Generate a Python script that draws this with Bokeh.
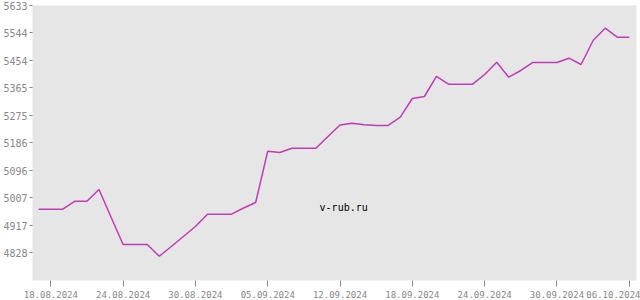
from bokeh.plotting import figure
from bokeh.models import FixedTicker, Range1d, Label
from bokeh.embed import file_html
from bokeh.resources import INLINE

dates = ["17.08.2024", "18.08.2024", "19.08.2024", "20.08.2024", "21.08.2024",
         "22.08.2024", "23.08.2024", "24.08.2024", "25.08.2024", "26.08.2024",
         "27.08.2024", "28.08.2024", "29.08.2024", "30.08.2024", "31.08.2024",
         "01.09.2024", "02.09.2024", "03.09.2024", "04.09.2024", "05.09.2024",
         "06.09.2024", "07.09.2024", "08.09.2024", "09.09.2024", "10.09.2024",
         "12.09.2024", "13.09.2024", "14.09.2024", "15.09.2024", "16.09.2024",
         "17.09.2024", "18.09.2024", "19.09.2024", "20.09.2024", "21.09.2024",
         "22.09.2024", "23.09.2024", "24.09.2024", "25.09.2024", "26.09.2024",
         "27.09.2024", "28.09.2024", "29.09.2024", "30.09.2024", "01.10.2024",
         "02.10.2024", "03.10.2024", "04.10.2024", "05.10.2024", "06.10.2024"]

values = [4970.4, 4970.4, 4970.4, 4996.4, 4996.4, 5034.5, 4944.4, 4855.6, 4855.6, 4855.6,
          4817.5, 4849.1, 4881.6, 4914.2, 4954.2, 4954.2, 4954.2, 4974.3, 4992.2, 5159.1,
          5154.9, 5168.8, 5168.8, 5168.8, 5206.9, 5244.3, 5250.2, 5245.0, 5242.7, 5242.7,
          5269.7, 5330.5, 5337.0, 5402.1, 5377.0, 5377.0, 5377.0, 5408.6, 5448.6, 5399.8,
          5421.6, 5447.6, 5447.6, 5447.6, 5461.6, 5441.1, 5519.2, 5559.2, 5529.9, 5529.9]

y_ticks = [4828, 4917, 5007, 5096, 5186, 5275, 5365, 5454, 5544, 5633]
x_tick_idx = [1, 7, 13, 19, 25, 31, 37, 43, 49]

xs = list(range(len(values)))

p = figure(width=640, height=300, output_backend="svg", toolbar_location=None,
           x_range=Range1d(-0.52, 49.6), y_range=Range1d(4738.5, 5633),
           background_fill_color="#e6e6e6", border_fill_color="white",
           min_border_left=32, min_border_top=5, min_border_right=4, min_border_bottom=20)
p.outline_line_color = None
p.grid.visible = False

p.line(xs, values, line_color="#c03cb4", line_width=1.5)

font = "DejaVu Sans Mono"
p.xaxis.ticker = FixedTicker(ticks=x_tick_idx)
p.xaxis.major_label_overrides = {i: dates[i] for i in x_tick_idx}
p.yaxis.ticker = FixedTicker(ticks=y_ticks)
p.yaxis.major_label_overrides = {v: str(v) for v in y_ticks}
for ax in (p.xaxis[0], p.yaxis[0]):
    ax.axis_line_color = None
    ax.minor_tick_line_color = None
    ax.major_tick_line_color = "#888888"
    ax.major_tick_in = 0
    ax.major_label_text_font = font
    ax.major_label_text_color = "#888888"
p.yaxis.major_label_text_font_size = "10px"
p.xaxis.major_label_text_font_size = "9px"
p.xaxis.major_tick_out = 6
p.xaxis.major_label_standoff = 4
p.yaxis.major_tick_out = 3
p.yaxis.major_label_standoff = 2

p.add_layout(Label(x=25.3, y=4977, text="v-rub.ru", text_font=font, text_font_size="10px",
                   text_color="black", text_align="center", text_baseline="middle"))

open("out.html", "w").write(file_html(p, INLINE))
